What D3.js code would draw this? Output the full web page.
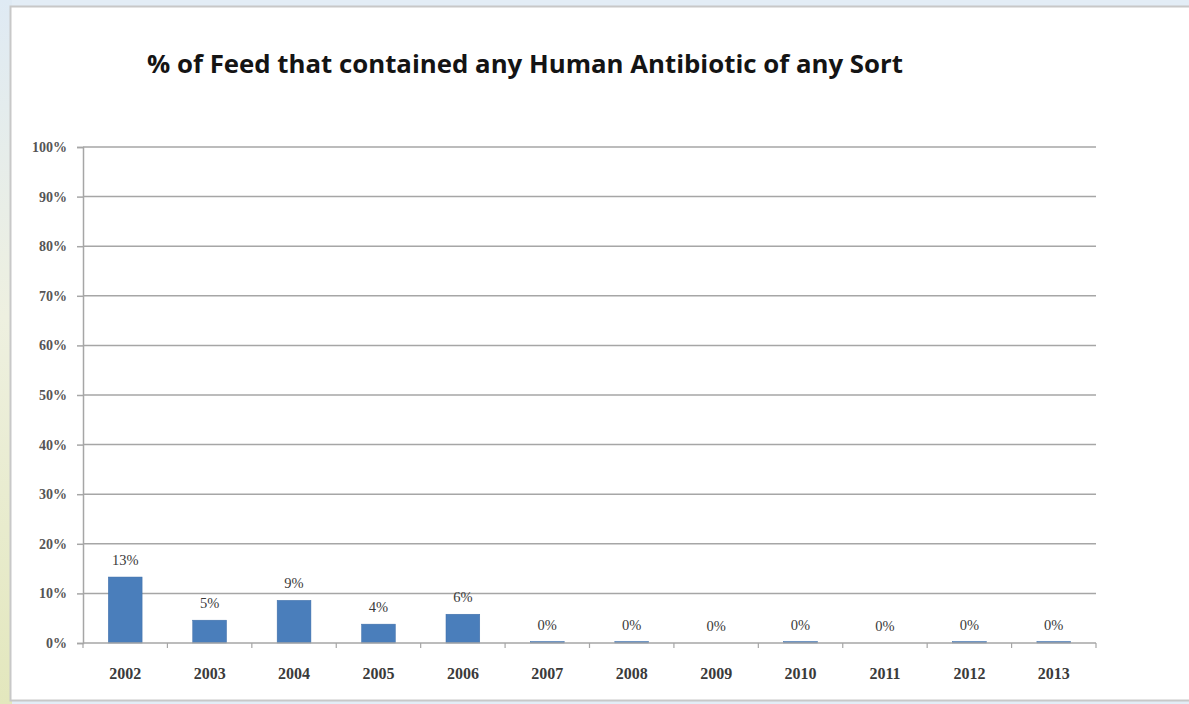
<!DOCTYPE html>
<html>
<head>
<meta charset="utf-8">
<script src="https://cdn.jsdelivr.net/npm/d3@7"></script>
<style>
  html, body { margin: 0; padding: 0; background: #ffffff; }
  svg { display: block; }
</style>
</head>
<body>
<svg id="chart" width="1189" height="704"></svg>
<script>
// Data
const years = ["2002","2003","2004","2005","2006","2007","2008","2009","2010","2011","2012","2013"];
const shares = [0.133, 0.046, 0.086, 0.038, 0.058, 0.003, 0.003, 0, 0.003, 0, 0.003, 0.003];
const yTicks = [0, 0.1, 0.2, 0.3, 0.4, 0.5, 0.6, 0.7, 0.8, 0.9, 1.0];
const titleText = "% of Feed that contained any Human Antibiotic of any Sort";

const svg = d3.select("#chart");
const W = 1189, H = 704;

// Page backdrop: pale blue top, pale olive strip at the left
const defs = svg.append("defs");
const lg = defs.append("linearGradient").attr("id", "side").attr("x1", 0).attr("y1", 0).attr("x2", 0).attr("y2", 1);
lg.append("stop").attr("offset", "0%").attr("stop-color", "#dfeaf4");
lg.append("stop").attr("offset", "45%").attr("stop-color", "#eef0e0");
lg.append("stop").attr("offset", "100%").attr("stop-color", "#e3e7bd");
svg.append("rect").attr("width", W).attr("height", H).attr("fill", "#e3edf6");
svg.append("rect").attr("x", 0).attr("y", 0).attr("width", 12).attr("height", H).attr("fill", "url(#side)");

// Chart frame
svg.append("rect")
  .attr("x", 10.5).attr("y", 6.5).attr("width", W + 10).attr("height", 694)
  .attr("fill", "#ffffff").attr("stroke", "#c8c8c8").attr("stroke-width", 2);

const plot = { left: 83, right: 1096, top: 147, bottom: 643 };

const x = d3.scaleBand().domain(years).range([plot.left, plot.right]).paddingInner(0.6).paddingOuter(0.3);
const y = d3.scaleLinear().domain([0, 1]).range([plot.bottom, plot.top]);

const serif = "'Liberation Serif', 'DejaVu Serif', serif";

// Title
svg.append("text")
  .attr("x", 525).attr("y", 73)
  .attr("text-anchor", "middle")
  .attr("font-family", "'Open Sans', 'Noto Sans', sans-serif")
  .attr("font-weight", 700)
  .attr("font-size", 25.8)
  .attr("fill", "#141414")
  .text(titleText);

// Horizontal gridlines
svg.append("g")
  .selectAll("line")
  .data(yTicks.filter(d => d > 0))
  .join("line")
  .attr("x1", plot.left).attr("x2", plot.right)
  .attr("y1", d => y(d)).attr("y2", d => y(d))
  .attr("stroke", "#a6a6a6").attr("stroke-width", 1.5);

// Y axis
const yAxis = svg.append("g")
  .attr("transform", `translate(${plot.left},0)`)
  .call(d3.axisLeft(y).tickValues(yTicks).tickFormat(d3.format(".0%")).tickSize(6).tickPadding(10));
yAxis.select(".domain").attr("stroke", "#a6a6a6").attr("stroke-width", 1.5);
yAxis.selectAll(".tick line").attr("stroke", "#a6a6a6").attr("stroke-width", 1.5);
yAxis.selectAll(".tick text")
  .attr("font-family", serif)
  .attr("font-weight", 700)
  .attr("font-size", 14)
  .attr("fill", "#555");

// Bars
svg.append("g")
  .selectAll("rect")
  .data(years.map((yr, i) => ({ yr, v: shares[i] })))
  .join("rect")
  .attr("x", d => x(d.yr))
  .attr("width", x.bandwidth())
  .attr("y", d => y(d.v))
  .attr("height", d => y(0) - y(d.v))
  .attr("fill", "#4a7ebb")
  .attr("stroke", "#3d6da8")
  .attr("stroke-width", 0.5);

// X axis with category separators
const step = x.step();
const xAxisG = svg.append("g").attr("transform", `translate(0,${plot.bottom})`);
xAxisG.append("line")
  .attr("x1", plot.left).attr("x2", plot.right)
  .attr("y1", 0).attr("y2", 0)
  .attr("stroke", "#a6a6a6").attr("stroke-width", 1.5);
xAxisG.selectAll("line.sep")
  .data(d3.range(years.length + 1))
  .join("line")
  .attr("class", "sep")
  .attr("x1", i => plot.left + i * step).attr("x2", i => plot.left + i * step)
  .attr("y1", 0).attr("y2", 5)
  .attr("stroke", "#a6a6a6").attr("stroke-width", 1.2);
xAxisG.selectAll("text")
  .data(years)
  .join("text")
  .attr("x", d => x(d) + x.bandwidth() / 2)
  .attr("y", 36)
  .attr("text-anchor", "middle")
  .attr("font-family", serif)
  .attr("font-weight", 700)
  .attr("font-size", 16)
  .attr("fill", "#3a3a3a")
  .text(d => d);

// Value labels
svg.append("g")
  .selectAll("text")
  .data(years.map((yr, i) => ({ yr, v: shares[i] })))
  .join("text")
  .attr("x", d => x(d.yr) + x.bandwidth() / 2)
  .attr("y", d => y(d.v) - 12)
  .attr("text-anchor", "middle")
  .attr("font-family", serif)
  .attr("font-size", 14.5)
  .attr("fill", "#3a3a3a")
  .text(d => d3.format(".0%")(d.v));
</script>
</body>
</html>
